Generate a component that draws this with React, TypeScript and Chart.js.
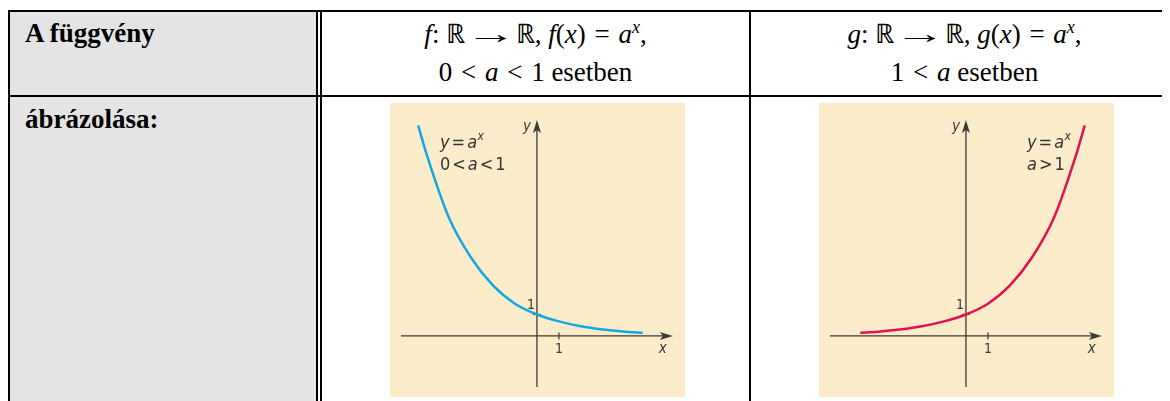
import React, { useEffect, useRef } from "react";
import { Chart, registerables } from "chart.js";

Chart.register(...registerables);

// ---- data ----
const X_DECAY = [-5.4, -5, -4, -3, -2, -1, 0, 1, 2, 3, 4, 4.8];
const Y_DECAY = [9.8, 8.4, 5.5, 3.65, 2.35, 1.5, 1.0, 0.68, 0.45, 0.3, 0.2, 0.15];
const X_GROWTH = [-4.8, -4, -3, -2, -1, 0, 1, 2, 3, 4, 5, 5.4];
const Y_GROWTH = [0.15, 0.2, 0.3, 0.45, 0.68, 1.0, 1.5, 2.35, 3.65, 5.5, 8.4, 9.8];
const X_RANGE = [-6.68, 6.73];
const Y_RANGE = [-2.84, 10.84];
const X_AXIS_EXTENT = [-6.18, 6.18];
const Y_AXIS_EXTENT = [-2.37, 10.05];
const TICK_VALUES = [1];
const LEFT_NOTE = [["y", "=", "a", "x"], ["0", "<", "a", "<", "1"]];
const RIGHT_NOTE = [["y", "=", "a", "x"], ["a", ">", "1"]];

const BG = "#fdecca";
const AXIS = "#3a3a3a";
const SANS = '"Liberation Sans Narrow", "DejaVu Sans Condensed", "Noto Sans", sans-serif';

type Part = { t: string; it?: boolean; sup?: boolean };

function drawRich(ctx: CanvasRenderingContext2D, parts: Part[], x: number, y: number, size: number) {
  let cx = x;
  parts.forEach((p, i) => {
    const fs = p.sup ? Math.round(size * 0.65) : size;
    ctx.font = `${p.it ? "italic " : ""}${fs}px ${SANS}`;
    ctx.fillText(p.t, cx, p.sup ? y - size * 0.42 : y);
    const next = parts[i + 1];
    cx += ctx.measureText(p.t).width + (next && next.sup ? 0.5 : 2);
  });
}

function toParts(line: string[], isFirst: boolean): Part[] {
  return line.map((t, i) => {
    const it = /^[a-z]$/.test(t);
    const sup = isFirst && i === 3;
    return { t, it, sup };
  });
}

function Panel({ xs, ys, color, note, noteX }: { xs: number[]; ys: number[]; color: string; note: string[][]; noteX: number }) {
  const ref = useRef<HTMLCanvasElement>(null);
  useEffect(() => {
    if (!ref.current) return;
    const plugin = {
      id: "mathAxes",
      beforeDraw(chart: any) {
        const c = chart.ctx as CanvasRenderingContext2D;
        c.save();
        c.fillStyle = BG;
        c.fillRect(0, 0, chart.width, chart.height);
        c.restore();
      },
      beforeDatasetsDraw(chart: any) {
        const c = chart.ctx as CanvasRenderingContext2D;
        const sx = chart.scales.x;
        const sy = chart.scales.y;
        const x0 = sx.getPixelForValue(0);
        const y0 = sy.getPixelForValue(0);
        c.save();
        c.strokeStyle = AXIS;
        c.fillStyle = AXIS;
        c.lineWidth = 1.3;
        // x axis
        const xa = sx.getPixelForValue(X_AXIS_EXTENT[0]);
        const xb = sx.getPixelForValue(X_AXIS_EXTENT[1]);
        c.beginPath();
        c.moveTo(xa, y0);
        c.lineTo(xb - 8, y0);
        c.stroke();
        c.beginPath();
        c.moveTo(xb, y0);
        c.lineTo(xb - 13, y0 - 4);
        c.lineTo(xb - 10, y0);
        c.lineTo(xb - 13, y0 + 4);
        c.closePath();
        c.fill();
        // y axis
        const ya = sy.getPixelForValue(Y_AXIS_EXTENT[0]);
        const yb = sy.getPixelForValue(Y_AXIS_EXTENT[1]);
        c.beginPath();
        c.moveTo(x0, ya);
        c.lineTo(x0, yb + 8);
        c.stroke();
        c.beginPath();
        c.moveTo(x0, yb);
        c.lineTo(x0 - 4, yb + 13);
        c.lineTo(x0, yb + 10);
        c.lineTo(x0 + 4, yb + 13);
        c.closePath();
        c.fill();
        // ticks
        c.lineWidth = 1.2;
        c.font = `14px ${SANS}`;
        for (const v of TICK_VALUES) {
          const tx = sx.getPixelForValue(v);
          c.beginPath();
          c.moveTo(tx, y0 - 3.5);
          c.lineTo(tx, y0 + 3.5);
          c.stroke();
          c.textAlign = "center";
          c.fillText(String(v), tx, y0 + 17);
          const ty = sy.getPixelForValue(v);
          c.beginPath();
          c.moveTo(x0 - 4, ty);
          c.lineTo(x0 + 4, ty);
          c.stroke();
          c.textAlign = "right";
          c.fillText(String(v), x0 - 2, ty - 5);
        }
        // axis names
        c.font = `italic 15px ${SANS}`;
        c.textAlign = "center";
        c.fillText("x", sx.getPixelForValue(5.72), y0 + 17);
        c.textAlign = "right";
        c.fillText("y", x0 - 6, yb + 11);
        // annotation
        c.textAlign = "left";
        c.fillStyle = "#333333";
        note.forEach((line, i) => {
          drawRich(c, toParts(line, i === 0), noteX, 45 + i * 22, 18);
        });
        c.restore();
      },
    };
    const chart = new Chart(ref.current, {
      type: "scatter",
      data: {
        datasets: [
          {
            data: xs.map((x, i) => ({ x, y: ys[i] })),
            showLine: true,
            borderColor: color,
            borderWidth: 2.5,
            pointRadius: 0,
            cubicInterpolationMode: "monotone",
            fill: false,
          } as any,
        ],
      },
      options: {
        animation: false,
        responsive: false,
        events: [],
        layout: { padding: 0 },
        plugins: { legend: { display: false }, tooltip: { enabled: false } },
        scales: {
          x: { type: "linear", display: false, min: X_RANGE[0], max: X_RANGE[1] },
          y: { type: "linear", display: false, min: Y_RANGE[0], max: Y_RANGE[1] },
        },
      },
      plugins: [plugin],
    });
    return () => chart.destroy();
  }, [xs, ys, color, note, noteX]);
  return <canvas ref={ref} width={295} height={294} style={{ width: 295, height: 294, display: "block" }} />;
}

const SERIF = '"Liberation Serif", "Times New Roman", serif';

function Rel({ s }: { s: string }) {
  return <span style={{ margin: "0 2px" }}> {s} </span>;
}

function Arrow() {
  return (
    <span style={{ display: "inline-block", transform: "scaleX(1.9)", margin: "0 5px" }}>→</span>
  );
}

export default function App() {
  const black = "#000";
  const abs = (l: number, t: number, w: number, h: number, bg: string): React.CSSProperties => ({
    position: "absolute",
    left: l,
    top: t,
    width: w,
    height: h,
    background: bg,
  });
  const sup: React.CSSProperties = { fontSize: 18, position: "relative", top: -10, lineHeight: 0, fontStyle: "italic" };
  const head: React.CSSProperties = { position: "absolute", top: 7.4, textAlign: "center", font: `27px ${SERIF}`, lineHeight: "38px", whiteSpace: "nowrap" };
  return (
    <div style={{ position: "relative", width: 1162, height: 393, overflow: "hidden", fontFamily: SERIF }}>
      <div style={abs(2, 4, 306, 400, "#e4e4e4")} />
      <div style={abs(0, 2, 1200, 2, black)} />
      <div style={abs(0, 87, 1200, 2, black)} />
      <div style={abs(0, 2, 2, 400, black)} />
      <div style={abs(308, 2, 2, 400, black)} />
      <div style={abs(311.5, 2, 2, 400, black)} />
      <div style={abs(741, 2, 2, 400, black)} />

      <div style={{ position: "absolute", left: 17, top: 5.6, font: `bold 27px ${SERIF}`, lineHeight: "38px" }}>A függvény</div>
      <div style={{ position: "absolute", left: 17, top: 91.6, font: `bold 27px ${SERIF}`, lineHeight: "38px" }}>ábrázolása:</div>

      <div style={{ ...head, left: 313.5, width: 428 }}>
        <div>
          <i>f</i>: ℝ <Arrow /> ℝ, <i>f</i>(<i>x</i>)<Rel s="=" /><i>a</i>
          <span style={sup}>x</span>,
        </div>
        <div>
          0<Rel s="<" /><i>a</i><Rel s="<" />1 esetben
        </div>
      </div>
      <div style={{ ...head, left: 743, width: 427 }}>
        <div>
          <i>g</i>: ℝ <Arrow /> ℝ, <i>g</i>(<i>x</i>)<Rel s="=" /><i>a</i>
          <span style={sup}>x</span>,
        </div>
        <div>
          1<Rel s="<" /><i>a</i> esetben
        </div>
      </div>

      <div style={{ position: "absolute", left: 382, top: 95 }}>
        <Panel xs={X_DECAY} ys={Y_DECAY} color="#12a8e4" note={LEFT_NOTE} noteX={50} />
      </div>
      <div style={{ position: "absolute", left: 811, top: 95 }}>
        <Panel xs={X_GROWTH} ys={Y_GROWTH} color="#e3114f" note={RIGHT_NOTE} noteX={208} />
      </div>
    </div>
  );
}
